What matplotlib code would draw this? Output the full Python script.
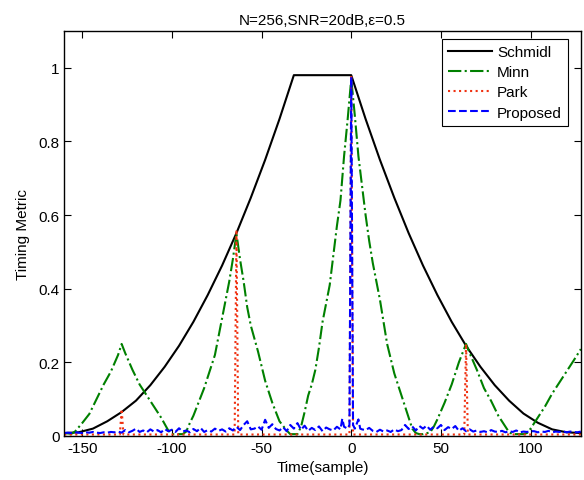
import matplotlib
matplotlib.use("Agg")
import matplotlib.pyplot as plt

plt.rcParams['font.family'] = ['Liberation Sans', 'DejaVu Sans']
plt.rcParams['axes.unicode_minus'] = False

# Schmidl metric
schmidl_x = [-160, -152, -144, -136, -128, -120, -112, -104, -96, -88, -80, -72, -64, -56, -48, -40,
             -32, 0, 8, 16, 24, 32, 40, 48, 56, 64, 72, 80, 88, 96, 104, 112, 120, 128]
schmidl_y = [0.008, 0.01, 0.02, 0.04, 0.065, 0.096, 0.138, 0.188, 0.245, 0.31, 0.383, 0.463, 0.551,
             0.647, 0.75, 0.861, 0.98, 0.98, 0.861, 0.75, 0.647, 0.551, 0.463, 0.383, 0.31, 0.245,
             0.188, 0.138, 0.096, 0.061, 0.036, 0.018, 0.01, 0.008]

# Minn metric
minn_x = [-160, -156, -154, -150, -146, -142, -138, -134, -130, -128, -126, -122, -118, -114, -110,
          -106, -102, -100, -96, -94, -92, -90, -88, -86, -84, -82, -80, -76, -72, -68, -66, -64,
          -62, -60, -58, -56, -52, -48, -44, -40, -36, -34, -32,
          -30, -28, -26, -24, -22, -20, -18, -16, -14, -12, -10, -8, -6, -4, -2, 0,
          2, 4, 6, 8, 10, 12, 14, 16, 18, 20, 22, 24, 26, 28, 30, 32, 34, 36, 38,
          40, 44, 46, 48, 52, 56, 60, 64, 66, 70, 74, 78, 82, 86, 88, 90, 96, 98, 100, 104, 108,
          112, 116, 120, 124, 128]
minn_y = [0.008, 0.006, 0.012, 0.035, 0.06, 0.1, 0.14, 0.175, 0.22, 0.25, 0.225, 0.18, 0.14, 0.11,
          0.08, 0.05, 0.015, 0.005, 0.005, 0.005, 0.012, 0.035, 0.055, 0.08, 0.105, 0.13, 0.16, 0.22,
          0.32, 0.42, 0.48, 0.55, 0.48, 0.42, 0.35, 0.3, 0.23, 0.15, 0.09, 0.04, 0.015, 0.005, 0.005,
          0.005, 0.025, 0.065, 0.11, 0.14, 0.18, 0.24, 0.31, 0.36, 0.41, 0.49, 0.57, 0.64, 0.76,
          0.86, 0.97,
          0.87, 0.76, 0.68, 0.6, 0.53, 0.47, 0.42, 0.37, 0.31, 0.25, 0.21, 0.17, 0.14, 0.11, 0.08,
          0.05, 0.02, 0.008, 0.005,
          0.005, 0.01, 0.025, 0.045, 0.09, 0.14, 0.2, 0.25, 0.225, 0.18, 0.13, 0.095, 0.055, 0.025,
          0.01, 0.005, 0.005, 0.008, 0.02, 0.05, 0.08, 0.115, 0.145, 0.175, 0.205, 0.236]

# Park metric
park_x = [-160, -129, -128, -127, -65, -64, -63, -1, 0, 1, 63, 64, 65, 128]
park_y = [0.004, 0.004, 0.073, 0.004, 0.004, 0.56, 0.004, 0.004, 0.98, 0.004, 0.004, 0.25, 0.004, 0.004]

# Proposed metric
prop_x = list(range(-160, -10, 2)) + [-10, -8, -6, -5, -4, -2, -1, 0, 1, 2, 4, 5, 6, 8, 10] + list(range(12, 129, 2))
prop_y = [0.008, 0.009, 0.008, 0.010, 0.009, 0.008, 0.010, 0.009, 0.011, 0.009, 0.008, 0.010, 0.009, 0.011, 0.010,
          0.012, 0.009, 0.016, 0.010, 0.014, 0.020, 0.011, 0.015, 0.010, 0.018, 0.012, 0.016, 0.010, 0.019, 0.013,
          0.017, 0.011, 0.021, 0.012, 0.015, 0.010, 0.019, 0.013, 0.022, 0.011, 0.016, 0.012, 0.020, 0.014, 0.018,
          0.012, 0.021, 0.015, 0.025, 0.016, 0.030, 0.040, 0.018, 0.020, 0.026, 0.017, 0.044, 0.022, 0.032, 0.019,
          0.015, 0.024, 0.013, 0.030, 0.020, 0.035, 0.017, 0.028, 0.014, 0.022, 0.016, 0.026, 0.013, 0.023, 0.018,
          0.015, 0.025, 0.018, 0.047, 0.025, 0.020, 0.030, 0.975, 0.030, 0.020, 0.045, 0.020, 0.018, 0.016, 0.022,
          0.014, 0.011, 0.017, 0.012, 0.015, 0.011, 0.018, 0.013, 0.016, 0.030, 0.019, 0.026, 0.015, 0.027, 0.020,
          0.028, 0.017, 0.025, 0.021, 0.030, 0.016, 0.024, 0.019, 0.027, 0.014, 0.021, 0.013, 0.018, 0.012, 0.015,
          0.011, 0.013, 0.010, 0.016, 0.012, 0.011, 0.014, 0.010, 0.013, 0.011, 0.015, 0.010, 0.012, 0.011, 0.013,
          0.013, 0.010, 0.012, 0.011, 0.014, 0.010, 0.012, 0.011, 0.013, 0.010, 0.012, 0.011, 0.010, 0.012]

x_ticks = [-150, -100, -50, 0, 50, 100]
y_ticks = [0, 0.2, 0.4, 0.6, 0.8, 1]
y_tick_labels = ["0", "0.2", "0.4", "0.6", "0.8", "1"]

fig = plt.figure(figsize=(5.84, 4.81), dpi=100)
ax = fig.add_axes([0.110, 0.0915, 0.8846, 0.842])

ax.plot(schmidl_x, schmidl_y, color="black", lw=1.5, ls="-", label="Schmidl")
ax.plot(minn_x, minn_y, color="#008000", lw=1.5, ls="-.", label="Minn")
ax.plot(park_x, park_y, color="#f03010", lw=1.5, ls=":", label="Park")
ax.plot(prop_x, prop_y, color="#0000ff", lw=1.5, ls="--", label="Proposed")

ax.set_xlim(-160, 128)
ax.set_ylim(0, 1.1)
ax.set_xticks(x_ticks)
ax.set_yticks(y_ticks)
ax.set_yticklabels(y_tick_labels)
ax.tick_params(direction="in", top=True, right=True, length=5, labelsize=11)
for s in ax.spines.values():
    s.set_linewidth(1.0)

ax.set_title("N=256,SNR=20dB,\u03b5=0.5", fontsize=11, pad=5)
ax.set_xlabel("Time(sample)", fontsize=11, labelpad=4)
ax.set_ylabel("Timing Metric", fontsize=11, labelpad=6)

leg = ax.legend(loc="upper right", bbox_to_anchor=(0.975, 0.98), borderaxespad=0,
                fontsize=11, handlelength=2.9, handletextpad=0.3, labelspacing=0.4,
                fancybox=False, edgecolor="black", framealpha=1)
leg.get_frame().set_linewidth(0.8)

fig.savefig("out.png", dpi=100)
